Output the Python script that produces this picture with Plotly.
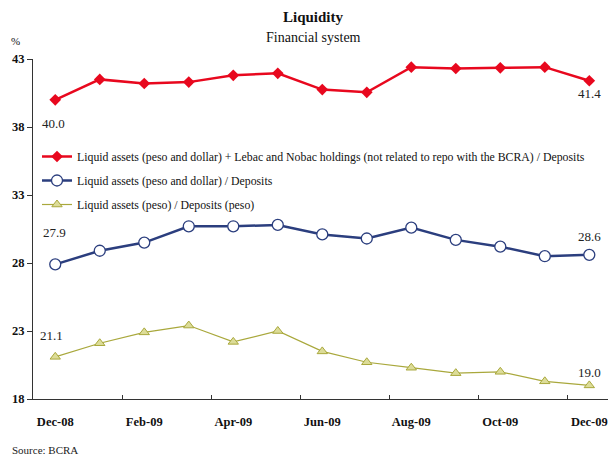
import plotly.graph_objects as go

months = ["Dec-08", "Jan-09", "Feb-09", "Mar-09", "Apr-09", "May-09", "Jun-09",
          "Jul-09", "Aug-09", "Sep-09", "Oct-09", "Nov-09", "Dec-09"]
red_vals = [40.0, 41.5, 41.2, 41.3, 41.8, 41.95, 40.75, 40.55, 42.4, 42.3, 42.35, 42.4, 41.4]
blue_vals = [27.9, 28.9, 29.5, 30.7, 30.7, 30.8, 30.1, 29.8, 30.6, 29.7, 29.2, 28.5, 28.6]
olive_vals = [21.1, 22.1, 22.9, 23.4, 22.2, 23.0, 21.5, 20.7, 20.3, 19.9, 20.0, 19.3, 19.0]

red_name = "Liquid assets (peso and dollar) + Lebac and Nobac holdings (not related to repo with the BCRA) / Deposits"
blue_name = "Liquid assets (peso and dollar) / Deposits"
olive_name = "Liquid assets (peso) / Deposits (peso)"

RED = "#E8081E"
BLUE = "#2B3E7E"
OLIVE = "#A9A83C"
SERIF = "Liberation Serif"

W, H = 608, 458
ml, mr, mt, mb = 33, 0, 59, 59

def px_to_paper_y(py):
    return (H - mb - py) / (H - mt - mb)

def px_to_paper_x(px):
    return (px - ml) / (W - ml - mr)

fig = go.Figure()
fig.add_trace(go.Scatter(x=months, y=red_vals, name=red_name, mode="lines+markers",
                         line=dict(color=RED, width=2.5),
                         marker=dict(symbol="diamond", size=9, color=RED),
                         legendgroup="a"))
fig.add_trace(go.Scatter(x=months, y=blue_vals, name=blue_name, mode="lines+markers",
                         line=dict(color=BLUE, width=2.5),
                         marker=dict(symbol="circle", size=11, color="white",
                                     line=dict(color=BLUE, width=1.3)),
                         legendgroup="b"))
fig.add_trace(go.Scatter(x=months, y=olive_vals, name=olive_name, mode="lines+markers",
                         line=dict(color=OLIVE, width=1.2),
                         marker=dict(symbol="triangle-up", size=9, color="#DCDC98",
                                     line=dict(color=OLIVE, width=1)),
                         legendgroup="c"))

# data labels (first and last point of each series)
labels = [
    (0, red_vals, -24, -2), (12, red_vals, -13, 0),
    (0, blue_vals, 32, -1), (12, blue_vals, 18, 0),
    (0, olive_vals, 21, -4), (12, olive_vals, 13, 0),
]
for idx, vals, ys, xs in labels:
    fig.add_annotation(x=months[idx], y=vals[idx], text=f"{vals[idx]:.1f}",
                       showarrow=False, yshift=ys, xshift=xs,
                       font=dict(family=SERIF, size=13, color="#222"))

fig.add_annotation(x=px_to_paper_x(313), y=px_to_paper_y(17), xref="paper", yref="paper",
                   yanchor="middle", text="<b>Liquidity</b>", showarrow=False,
                   font=dict(family=SERIF, size=15, color="#111"))
fig.add_annotation(x=px_to_paper_x(313), y=px_to_paper_y(37), xref="paper", yref="paper",
                   yanchor="middle", text="Financial system", showarrow=False,
                   font=dict(family=SERIF, size=14, color="#111"))
fig.add_annotation(x=px_to_paper_x(9), y=px_to_paper_y(41), xref="paper", yref="paper",
                   xanchor="left", yanchor="middle", text="%", showarrow=False,
                   font=dict(family=SERIF, size=11, color="#111"))
fig.add_annotation(x=px_to_paper_x(10), y=px_to_paper_y(450), xref="paper", yref="paper",
                   xanchor="left", yanchor="middle", text="Source: BCRA", showarrow=False,
                   font=dict(family=SERIF, size=11, color="#222"))

fig.update_layout(
    width=W, height=H,
    margin=dict(l=ml, r=mr, t=mt, b=mb, autoexpand=False),
    paper_bgcolor="white", plot_bgcolor="white",
    showlegend=True,
    legend=dict(x=px_to_paper_x(37), y=px_to_paper_y(142), xanchor="left", yanchor="top",
                bgcolor="rgba(0,0,0,0)", font=dict(family=SERIF, size=11.8, color="#111"),
                traceorder="grouped", tracegroupgap=5, itemwidth=30),
    xaxis=dict(type="category", range=[-0.5, 12.42], dtick=2, tick0=0,
               tickson="boundaries", ticks="inside", ticklen=4, tickcolor="#333",
               showline=True, linecolor="#333", linewidth=1, showgrid=False,
               zeroline=False, ticklabelstandoff=11, tickangle=0,
               tickfont=dict(family=SERIF, size=12.5, color="#111", weight="bold")),
    yaxis=dict(range=[18, 43], tickvals=[18, 23, 28, 33, 38, 43], ticks="outside",
               ticklen=5, tickcolor="#333", showline=True, linecolor="#333", linewidth=1,
               showgrid=False, zeroline=False,
               tickfont=dict(family=SERIF, size=12.5, color="#111", weight="bold")),
)

fig.write_html("out.html")
